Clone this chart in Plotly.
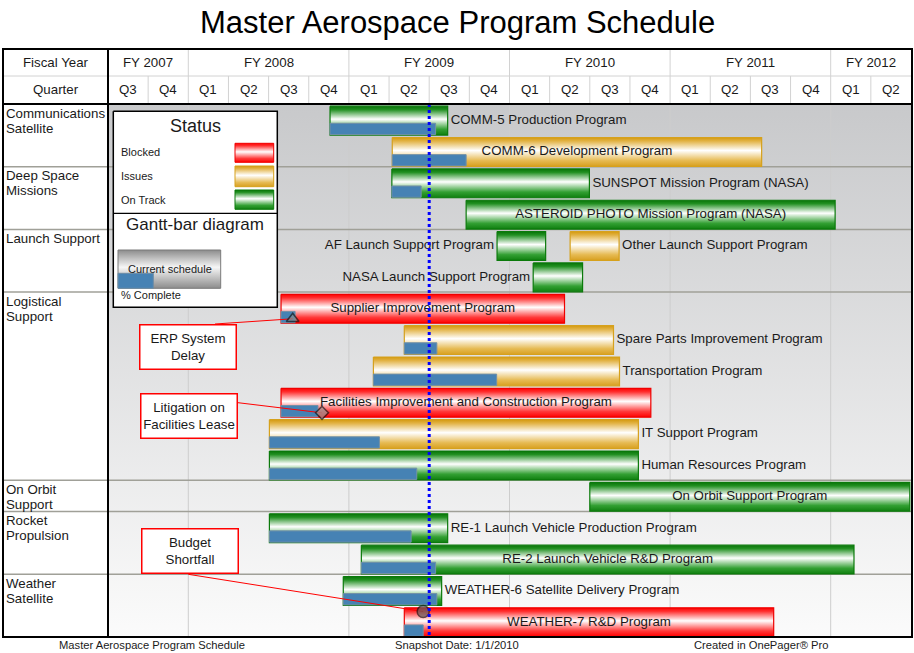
import plotly.graph_objects as go

# ------------------------------------------------------------------ data
fiscal_years = ["FY 2007", "FY 2008", "FY 2009", "FY 2010", "FY 2011", "FY 2012"]
fy_quarter_counts = [2, 4, 4, 4, 4, 2]
quarter_labels = ["Q3", "Q4", "Q1", "Q2", "Q3", "Q4", "Q1", "Q2", "Q3", "Q4",
                  "Q1", "Q2", "Q3", "Q4", "Q1", "Q2", "Q3", "Q4", "Q1", "Q2"]

group_names = ["Communications<br>Satellite", "Deep Space<br>Missions", "Launch Support",
               "Logistical<br>Support", "On Orbit<br>Support", "Rocket<br>Propulsion",
               "Weather<br>Satellite"]
group_sizes = [2, 2, 2, 6, 1, 2, 2]

program_names = [
    "COMM-5 Production Program", "COMM-6 Development Program",
    "SUNSPOT Mission Program (NASA)", "ASTEROID PHOTO Mission Program (NASA)",
    "AF Launch Support Program", "Other Launch Support Program",
    "NASA Launch Support Program", "Supplier Improvement Program",
    "Spare Parts Improvement Program", "Transportation Program",
    "Facilities Improvement and Construction Program", "IT Support Program",
    "Human Resources Program", "On Orbit Support Program",
    "RE-1 Launch Vehicle Production Program", "RE-2 Launch Vehicle R&D Program",
    "WEATHER-6 Satellite Delivery Program", "WEATHER-7 R&D Program"]
program_rows = [0, 1, 2, 3, 4, 4, 5, 6, 7, 8, 9, 10, 11, 12, 13, 14, 15, 16]
# start / finish / percent-complete position, in quarters from FY2007 Q3
start_q = [5.53, 7.08, 7.07, 8.92, 9.69, 11.51, 10.59, 4.31, 7.38, 6.61,
           4.31, 4.02, 4.02, 12.00, 4.02, 6.31, 5.86, 7.38]
finish_q = [8.46, 16.28, 11.99, 18.11, 10.90, 12.73, 11.82, 11.37, 12.59, 12.74,
            13.52, 13.21, 13.21, 19.97, 8.46, 18.58, 8.31, 16.58]
complete_q = [8.16, 8.92, 7.80, None, None, None, None, 4.66, 8.19, 9.68,
              5.23, 6.76, 7.69, None, 7.55, 8.16, 8.19, 7.85]
program_status = ["On Track", "Issues", "On Track", "On Track", "On Track", "Issues",
                  "On Track", "Blocked", "Issues", "Issues", "Blocked", "Issues",
                  "On Track", "On Track", "On Track", "On Track", "On Track", "Blocked"]
label_side = ["right", "inside", "right", "inside", "left", "right", "left", "inside",
              "right", "right", "inside", "right", "right", "inside", "right", "inside",
              "right", "inside"]

milestone_program = [7, 10, 17]
milestone_q = [4.60, 5.33, 7.85]
milestone_symbol = ["triangle-up", "diamond", "circle"]
callout_texts = ["ERP System<br>Delay", "Litigation on<br>Facilities Lease", "Budget<br>Shortfall"]

status_names = ["Blocked", "Issues", "On Track"]
snapshot_q = 8.0
footer_texts = ["Master Aerospace Program Schedule", "Snapshot Date: 1/1/2010",
                "Created in OnePager® Pro"]
chart_title = "Master Aerospace Program Schedule"

# ------------------------------------------------------------------ geometry / style
W, H = 914, 653
PL, PR, PT, PB = 108, 911, 104, 637      # timeline body (plot area) in pixels
FL, FR, FT, HM = 3, 912, 49, 76          # frame left/right/top, header middle line
NQ = len(quarter_labels)
NR = sum(group_sizes)
FONT = "Liberation Sans, Arial, sans-serif"
TXT = "#1a1a1a"
FS = 13.3


def qx(px):
    return (px - PL) / (PR - PL) * NQ


def ry(py):
    return (py - PT) / (PB - PT) * NR


def papx(px):
    return (px - PL) / (PR - PL)


def papy(py):
    return (PB - py) / (PB - PT)


def rect(x0, x1, y0, y1):
    return [x0, x1, x1, x0, x0], [y0, y0, y1, y1, y0]


STYLE = {
    "On Track": dict(line="#0b7a0b",
                     scale=[[0, "#087408"], [0.12, "#229022"], [0.45, "#ffffff"],
                            [0.8, "#33a033"], [1, "#0f7f0f"]]),
    "Issues": dict(line="#d6a11c",
                   scale=[[0, "#d49a10"], [0.12, "#e2b243"], [0.45, "#ffffff"],
                          [0.8, "#e6ba52"], [1, "#d8a020"]]),
    "Blocked": dict(line="#f00000",
                    scale=[[0, "#ff0000"], [0.12, "#ff2e2e"], [0.45, "#ffffff"],
                           [0.8, "#ff3a3a"], [1, "#ff0000"]]),
}
GRAY_SCALE = [[0, "#8c8c8c"], [0.45, "#f6f6f6"], [1, "#8c8c8c"]]
BAR_TOP, BAR_BOT = 0.07, 0.99
PROG_TOP, PROG_BOT = 0.615, 0.975
MILESTONE_POS = [0.85, 0.85, 0.19]
CALLOUT_BOX = [(188, 347), (189, 416), (190, 551)]           # box centres (px)
CALLOUT_FROM = [(215, 324), (238, 402.7), (188.3, 574.3)]   # leader line start (px)

traces = []

# body background gradient
bx, by = rect(0, NQ, 0, NR)
traces.append(go.Scatter(x=bx, y=by, fill="toself", mode="lines", line=dict(width=0),
                         fillgradient=dict(type="vertical", start=0, stop=NR,
                                           colorscale=[[0, "#c8c9cb"], [1, "#fbfbfb"]])))

# fiscal-year gridlines & group separators in the body
fy_bounds = []
acc = 0
for n in fy_quarter_counts[:-1]:
    acc += n
    fy_bounds.append(acc)
gx, gy = [], []
for b in fy_bounds:
    gx += [b, b, None]
    gy += [0, NR, None]
traces.append(go.Scatter(x=gx, y=gy, mode="lines", line=dict(color="#cdcdcd", width=1)))
grp_bounds = []
acc = 0
for n in group_sizes[:-1]:
    acc += n
    grp_bounds.append(acc)
hx, hy = [], []
for b in grp_bounds:
    hx += [0, NQ, None]
    hy += [b, b, None]
traces.append(go.Scatter(x=hx, y=hy, mode="lines", line=dict(color="#a0a098", width=1.5)))

# legend box
lx, ly = rect(qx(113.3), qx(277.3), ry(111.3), ry(307.3))
traces.append(go.Scatter(x=lx, y=ly, fill="toself", fillcolor="white", mode="lines",
                         line=dict(color="black", width=1.5)))
traces.append(go.Scatter(x=[qx(113.3), qx(277.3)], y=[ry(213.3), ry(213.3)], mode="lines",
                         line=dict(color="black", width=1.2)))
sw_y = {"Blocked": (143.3, 162.3), "Issues": (166, 186.7), "On Track": (190, 209.3)}
for s in status_names:
    y0, y1 = ry(sw_y[s][0]), ry(sw_y[s][1])
    sx, sy = rect(qx(235), qx(273.7), y0, y1)
    traces.append(go.Scatter(x=sx, y=sy, fill="toself", mode="lines",
                             line=dict(color=STYLE[s]["line"], width=1),
                             fillgradient=dict(type="vertical", start=y0, stop=y1,
                                               colorscale=STYLE[s]["scale"])))
g0, g1 = ry(250), ry(288.3)
sx, sy = rect(qx(118), qx(220.7), g0, g1)
traces.append(go.Scatter(x=sx, y=sy, fill="toself", mode="lines",
                         line=dict(color="#7a7a7a", width=1),
                         fillgradient=dict(type="vertical", start=g0, stop=g1,
                                           colorscale=GRAY_SCALE)))
sx, sy = rect(qx(118), qx(153.3), ry(273.3), ry(288.3))
traces.append(go.Scatter(x=sx, y=sy, fill="toself", fillcolor="#4682b4", mode="lines",
                         line=dict(color="#6d8da5", width=1)))

# schedule bars
for i, name in enumerate(program_names):
    r = program_rows[i]
    y0, y1 = r + BAR_TOP, r + BAR_BOT
    sx, sy = rect(start_q[i], finish_q[i], y0, y1)
    st = STYLE[program_status[i]]
    traces.append(go.Scatter(x=sx, y=sy, fill="toself", mode="lines",
                             line=dict(color=st["line"], width=1.2),
                             fillgradient=dict(type="vertical", start=y0, stop=y1,
                                               colorscale=st["scale"])))

# percent-complete bars
px_, py_ = [], []
for i in range(len(program_names)):
    if complete_q[i] is None:
        continue
    r = program_rows[i]
    sx, sy = rect(start_q[i], complete_q[i], r + PROG_TOP, r + PROG_BOT)
    px_ += sx + [None]
    py_ += sy + [None]
traces.append(go.Scatter(x=px_, y=py_, fill="toself", fillcolor="#4682b4", mode="lines",
                         line=dict(color="#7390a6", width=1)))

# bar labels
off = qx(PL + 3)
for side, pos in [("right", "middle right"), ("left", "middle left"), ("inside", "middle center")]:
    xs, ys, ts = [], [], []
    for i, name in enumerate(program_names):
        if label_side[i] != side:
            continue
        if side == "right":
            xs.append(finish_q[i] + off)
        elif side == "left":
            xs.append(start_q[i] - off)
        else:
            xs.append((start_q[i] + finish_q[i]) / 2)
        ys.append(program_rows[i] + 0.53)
        ts.append(name)
    traces.append(go.Scatter(x=xs, y=ys, text=ts, mode="text", textposition=pos,
                             textfont=dict(family=FONT, size=FS, color=TXT)))

# callout leader lines
for k, m in enumerate(milestone_program):
    fx, fy = CALLOUT_FROM[k]
    my = program_rows[m] + MILESTONE_POS[k]
    traces.append(go.Scatter(x=[qx(fx), milestone_q[k]], y=[ry(fy), my], mode="lines",
                             line=dict(color="#ff0000", width=1)))

# milestones
traces.append(go.Scatter(
    x=milestone_q,
    y=[program_rows[m] + MILESTONE_POS[k] for k, m in enumerate(milestone_program)],
    mode="markers",
    marker=dict(symbol=milestone_symbol, size=[11, 10, 12],
                color=["#8a8a8a", "#9a9a9a", "#626262"],
                line=dict(color="#1a1a1a", width=1.5))))

# snapshot line
traces.append(go.Scatter(x=[snapshot_q, snapshot_q], y=[0, NR], mode="lines",
                         line=dict(color="#0000ff", width=3, dash="dot")))

fig = go.Figure(traces)

# ------------------------------------------------------------------ shapes (table frame)
shapes = []
LG = "#d2d2d2"
shapes.append(dict(type="line", xref="paper", yref="paper", x0=papx(FL), x1=papx(FR),
                   y0=papy(HM), y1=papy(HM), line=dict(color=LG, width=1)))
for i in range(1, NQ):
    top = FT if i in fy_bounds else HM
    shapes.append(dict(type="line", xref="x", yref="paper", x0=i, x1=i,
                       y0=papy(top), y1=papy(PT), line=dict(color=LG, width=1)))
for b in grp_bounds:
    shapes.append(dict(type="line", xref="paper", yref="y", x0=papx(FL), x1=papx(PL),
                       y0=b, y1=b, line=dict(color="#a0a098", width=1.5)))
shapes.append(dict(type="line", xref="paper", yref="paper", x0=papx(FL), x1=papx(FR),
                   y0=papy(PT), y1=papy(PT), line=dict(color="black", width=2)))
shapes.append(dict(type="line", xref="paper", yref="paper", x0=papx(PL), x1=papx(PL),
                   y0=papy(FT), y1=papy(PB), line=dict(color="black", width=2)))
shapes.append(dict(type="rect", xref="paper", yref="paper", x0=papx(FL), x1=papx(FR),
                   y0=papy(FT), y1=papy(PB), line=dict(color="black", width=2)))

# ------------------------------------------------------------------ annotations
ann = []


def txt(text, x, y, size=FS, xref="paper", yref="paper", xanchor="center",
        yanchor="middle", align="center", **kw):
    d = dict(text=text, x=x, y=y, xref=xref, yref=yref, xanchor=xanchor, yanchor=yanchor,
             align=align, showarrow=False, font=dict(family=FONT, size=size, color=TXT))
    d.update(kw)
    ann.append(d)


txt(chart_title, papx(457), papy(23), size=31, font=dict(family=FONT, size=31, color="black"))
txt("Fiscal Year", papx(55.5), papy(62.5))
txt("Quarter", papx(55.5), papy(90))
acc = 0
for fy, n in zip(fiscal_years, fy_quarter_counts):
    txt(fy, acc + n / 2, papy(62.5), xref="x")
    acc += n
for i, q in enumerate(quarter_labels):
    txt(q, i + 0.5, papy(90), xref="x")
acc = 0
for g, n in zip(group_names, group_sizes):
    for j, line in enumerate(g.split("<br>")):
        txt(line, papx(4), acc, yref="y", xanchor="left", align="left",
            yshift=-(9 + 15 * j))
    acc += n

# legend text
txt("Status", qx(195), ry(126), size=18, xref="x", yref="y")
for s, yc in zip(status_names, [152, 175.5, 199.5]):
    txt(s, qx(119), ry(yc), size=11, xref="x", yref="y", xanchor="left")
txt("Gantt-bar diagram", qx(195), ry(224), size=17, xref="x", yref="y")
txt("Current schedule", qx(169.5), ry(268.5), size=11, xref="x", yref="y")
txt("% Complete", qx(119), ry(295), size=11, xref="x", yref="y", xanchor="left")

# callout boxes
for t, (cx, cy) in zip(callout_texts, CALLOUT_BOX):
    txt(t, qx(cx), ry(cy), xref="x", yref="y", bgcolor="white", bordercolor="#ff0000",
        borderwidth=1.5, borderpad=1, width=93, height=41)

# footer
for t, cx in zip(footer_texts, [152, 457, 761.5]):
    txt(t, papx(cx), papy(645), size=11.2)

fig.update_layout(
    width=W, height=H, margin=dict(l=PL, r=W - PR, t=PT, b=H - PB),
    paper_bgcolor="white", plot_bgcolor="white", showlegend=False, hovermode=False,
    shapes=shapes, annotations=ann,
    xaxis=dict(range=[0, NQ], visible=False, fixedrange=True),
    yaxis=dict(range=[NR, 0], visible=False, fixedrange=True),
)

fig.write_html("out.html", config={"displayModeBar": False},
               post_script="document.body.style.margin='0';document.body.style.padding='0';")
